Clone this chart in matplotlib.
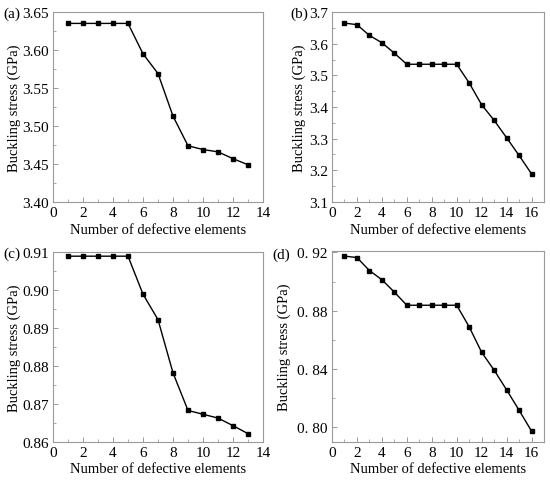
import numpy as np
import matplotlib
matplotlib.use("Agg")
import matplotlib.pyplot as plt
from matplotlib.ticker import MultipleLocator, FuncFormatter

plt.rcParams["font.family"] = ["Liberation Serif", "DejaVu Serif"]

# defect counts
n_a = list(range(1, 14))
n_b = list(range(1, 17))

# buckling stress (GPa)
stress_a = [3.635, 3.635, 3.635, 3.635, 3.635, 3.595, 3.569, 3.513,
            3.474, 3.469, 3.466, 3.457, 3.449]
stress_b = [3.665, 3.660, 3.626, 3.603, 3.570, 3.535, 3.535, 3.535,
            3.535, 3.535, 3.476, 3.407, 3.358, 3.303, 3.247, 3.189]
stress_c = [0.9089, 0.9089, 0.9089, 0.9089, 0.9089, 0.8989, 0.8922,
            0.8782, 0.8683, 0.8673, 0.8663, 0.8643, 0.8622]
stress_d = [0.9175, 0.9165, 0.9076, 0.9013, 0.8928, 0.8838, 0.8838,
            0.8838, 0.8838, 0.8838, 0.8690, 0.8515, 0.8393, 0.8258,
            0.8118, 0.7975]

spine_col = "#9a9a9a"
W, H = 550, 481
FS = 10


def style_axes(ax, xlim, ylim, xmaj, xmin, ymaj, ymin, fmt):
    ax.set_xlim(*xlim)
    ax.set_ylim(*ylim)
    ax.xaxis.set_major_locator(MultipleLocator(xmaj))
    ax.xaxis.set_minor_locator(MultipleLocator(xmin))
    ax.yaxis.set_major_locator(MultipleLocator(ymaj))
    ax.yaxis.set_minor_locator(MultipleLocator(ymin))
    ax.yaxis.set_major_formatter(FuncFormatter(fmt))
    for s in ax.spines.values():
        s.set_color(spine_col)
        s.set_linewidth(0.8)
    ax.tick_params(which="both", direction="in", color=spine_col,
                   labelsize=FS + 1, pad=3)
    ax.tick_params(which="major", length=3.5, width=0.7)
    ax.tick_params(which="minor", length=2, width=0.6)
    ax.set_xlabel("Number of defective elements", fontsize=FS + 0.5)
    ax.set_ylabel("Buckling stress (GPa)", fontsize=FS + 0.5)


def px_axes(left, top, right, bottom):
    return fig.add_axes([left / W, 1 - bottom / H, (right - left) / W,
                         (bottom - top) / H])


fig = plt.figure(figsize=(5.5, 4.81), dpi=100)

# tag, axes box (px), x, y, xlim, ylim, y major, y minor, formatter,
# ylabel x (px), tag position (px)
panels = [
    ("(a)", (53, 13, 263, 203), n_a, stress_a, (0, 14), (3.40, 3.65),
     0.05, 0.025, lambda v, p: f"{v:.2f}", 14, (12, 14)),
    ("(b)", (332, 13, 544, 203), n_b, stress_b, (0, 17), (3.1, 3.7),
     0.1, 0.05, lambda v, p: f"{v:.1f}", 299, (299, 14)),
    ("(c)", (53, 253, 263, 443), n_a, stress_c, (0, 14), (0.86, 0.91),
     0.01, 0.005, lambda v, p: f"{v:.2f}", 14, (12, 254)),
    ("(d)", (332, 252, 544, 443), n_b, stress_d, (0, 17), (0.79, 0.921),
     0.04, 0.02, lambda v, p: f"{v:.2f}".replace(".", ". "), 284, (281, 255)),
]

for tag, box, x, y, xl, yl, ymaj, ymin, fmt, ylab_x, tag_xy in panels:
    ax = px_axes(*box)
    ax.plot(x, y, color="black", lw=1.0, marker="s", ms=3.2)
    style_axes(ax, xl, yl, 2, 1, ymaj, ymin, fmt)
    width = box[2] - box[0]
    height = box[3] - box[1]
    ax.yaxis.set_label_coords((ylab_x - box[0]) / width, 0.5)
    ax.xaxis.set_label_coords(0.5, -(box[3] + 27 - box[3]) / height)
    ax.xaxis.label.set_va("center")
    ax.yaxis.label.set_va("center")
    fig.text(tag_xy[0] / W, 1 - tag_xy[1] / H, tag, fontsize=FS + 1,
             ha="center", va="center")

fig.savefig("out.png", dpi=100)
